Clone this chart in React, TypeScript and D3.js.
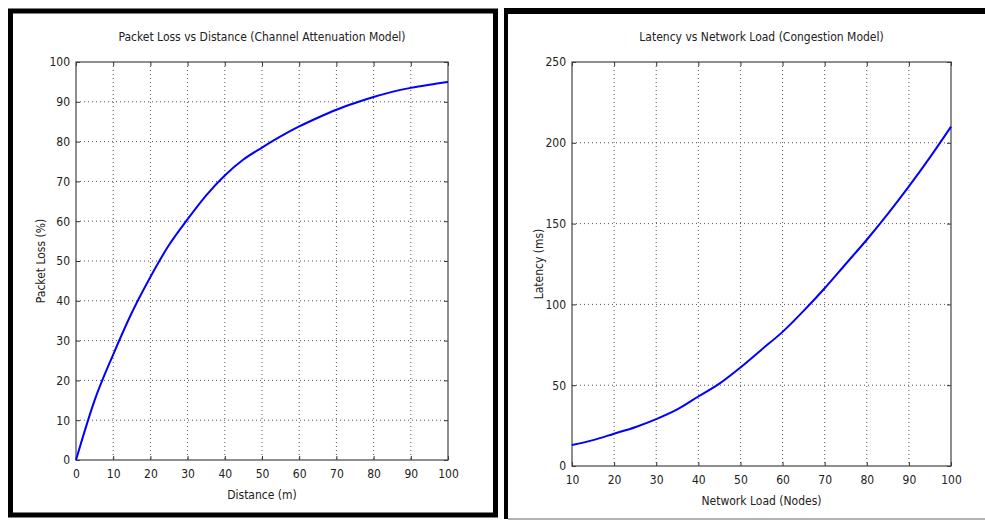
import * as React from "react";
import { useRef, useEffect } from "react";
import * as d3 from "d3";

// readings taken off the reference figure
const distance = [0, 5, 10, 15, 20, 25, 30, 35, 40, 45, 50, 55, 60, 65, 70, 75, 80, 85, 90, 95, 100];
const packetLoss = [0, 15, 26.5, 37, 46, 54, 60.5, 66.5, 71.5, 75.5, 78.5, 81.3, 83.8, 86, 88, 89.7, 91.2, 92.5, 93.5, 94.3, 95];

const load = [10, 15, 20, 25, 30, 35, 40, 45, 50, 55, 60, 65, 70, 75, 80, 85, 90, 95, 100];
const latency = [13, 16, 20, 24, 29, 35, 43, 51, 61, 72, 83, 96, 110, 125, 140, 156, 173, 191, 210];

const lossTicksX = [0, 10, 20, 30, 40, 50, 60, 70, 80, 90, 100];
const lossTicksY = [0, 10, 20, 30, 40, 50, 60, 70, 80, 90, 100];
const latTicksX = [10, 20, 30, 40, 50, 60, 70, 80, 90, 100];
const latTicksY = [0, 50, 100, 150, 200, 250];

const FONT = "'Liberation Sans Narrow', 'Arial Narrow', 'DejaVu Sans Condensed', sans-serif";

const drawPanel = (svg, opts) => {
  const { left, right, top, bottom, xDomain, yDomain, xTicks, yTicks, xs, ys, title, xLabel, yLabel, yLabelX, xLabelY } = opts;
  const x = d3.scaleLinear().domain(xDomain).range([left, right]);
  const y = d3.scaleLinear().domain(yDomain).range([bottom, top]);
  const g = svg.append("g");

  // grid
  g.selectAll(".gx")
    .data(xTicks.slice(1, -1))
    .join("line")
    .attr("x1", (d) => x(d))
    .attr("x2", (d) => x(d))
    .attr("y1", top)
    .attr("y2", bottom)
    .attr("stroke", "#555")
    .attr("stroke-width", 1)
    .attr("stroke-dasharray", "1,3");
  g.selectAll(".gy")
    .data(yTicks.slice(1, -1))
    .join("line")
    .attr("y1", (d) => y(d))
    .attr("y2", (d) => y(d))
    .attr("x1", left)
    .attr("x2", right)
    .attr("stroke", "#555")
    .attr("stroke-width", 1)
    .attr("stroke-dasharray", "1,3");

  // axes, ticks pointing in on all four sides
  const tk = 4;
  g.append("g")
    .attr("transform", `translate(0,${bottom})`)
    .call(d3.axisBottom(x).tickValues(xTicks).tickSize(-tk).tickPadding(9))
    .call((a) => a.select(".domain").remove());
  g.append("g")
    .attr("transform", `translate(0,${top})`)
    .call(d3.axisTop(x).tickValues(xTicks).tickSize(-tk).tickFormat(() => ""))
    .call((a) => a.select(".domain").remove());
  g.append("g")
    .attr("transform", `translate(${left},0)`)
    .call(d3.axisLeft(y).tickValues(yTicks).tickSize(-tk).tickPadding(6))
    .call((a) => a.select(".domain").remove());
  g.append("g")
    .attr("transform", `translate(${right},0)`)
    .call(d3.axisRight(y).tickValues(yTicks).tickSize(-tk).tickFormat(() => ""))
    .call((a) => a.select(".domain").remove());
  g.selectAll(".tick line").attr("stroke", "#333");
  g.selectAll(".tick text").attr("font-family", FONT).attr("font-size", 12).attr("fill", "#222");

  g.append("rect")
    .attr("x", left)
    .attr("y", top)
    .attr("width", right - left)
    .attr("height", bottom - top)
    .attr("fill", "none")
    .attr("stroke", "#444")
    .attr("stroke-width", 1.2);

  const line = d3
    .line()
    .x((d, i) => x(xs[i]))
    .y((d) => y(d))
    .curve(d3.curveMonotoneX);
  g.append("path")
    .datum(ys)
    .attr("fill", "none")
    .attr("stroke", "#0000ff")
    .attr("stroke-width", 2)
    .attr("d", line);

  g.append("text")
    .attr("x", (left + right) / 2)
    .attr("y", 41)
    .attr("text-anchor", "middle")
    .attr("font-family", FONT)
    .attr("font-size", 12)
    .attr("fill", "#222")
    .text(title);
  g.append("text")
    .attr("x", (left + right) / 2)
    .attr("y", xLabelY)
    .attr("text-anchor", "middle")
    .attr("font-family", FONT)
    .attr("font-size", 12)
    .attr("fill", "#222")
    .text(xLabel);
  g.append("text")
    .attr("transform", `translate(${yLabelX},${(top + bottom) / 2}) rotate(-90)`)
    .attr("text-anchor", "middle")
    .attr("font-family", FONT)
    .attr("font-size", 12)
    .attr("fill", "#222")
    .text(yLabel);
};

export default function App() {
  const ref = useRef(null);
  useEffect(() => {
    const el = ref.current;
    el.innerHTML = "";
    const svg = d3
      .select(el)
      .append("svg")
      .attr("width", 985)
      .attr("height", 521)
      .style("position", "absolute")
      .style("left", 0)
      .style("top", 0)
      .style("background", "#fff");

    // panel frames
    svg.append("rect").attr("x", 10.5).attr("y", 11).attr("width", 485).attr("height", 504)
      .attr("fill", "none").attr("stroke", "#000").attr("stroke-width", 5);
    svg.append("line").attr("x1", 506).attr("x2", 506).attr("y1", 8).attr("y2", 519)
      .attr("stroke", "#000").attr("stroke-width", 4);
    svg.append("line").attr("x1", 504).attr("x2", 985).attr("y1", 11).attr("y2", 11)
      .attr("stroke", "#000").attr("stroke-width", 6);
    svg.append("line").attr("x1", 508).attr("x2", 985).attr("y1", 519).attr("y2", 519)
      .attr("stroke", "#999").attr("stroke-width", 1.5);

    drawPanel(svg, {
      left: 76, right: 448, top: 62, bottom: 460,
      xDomain: [0, 100], yDomain: [0, 100],
      xTicks: lossTicksX, yTicks: lossTicksY,
      xs: distance, ys: packetLoss,
      title: "Packet Loss vs Distance (Channel Attenuation Model)",
      xLabel: "Distance (m)", xLabelY: 499,
      yLabel: "Packet Loss (%)", yLabelX: 45,
    });
    drawPanel(svg, {
      left: 572, right: 951, top: 62, bottom: 466,
      xDomain: [10, 100], yDomain: [0, 250],
      xTicks: latTicksX, yTicks: latTicksY,
      xs: load, ys: latency,
      title: "Latency vs Network Load (Congestion Model)",
      xLabel: "Network Load (Nodes)", xLabelY: 505,
      yLabel: "Latency (ms)", yLabelX: 543,
    });
  }, []);
  return <div ref={ref}></div>;
}
